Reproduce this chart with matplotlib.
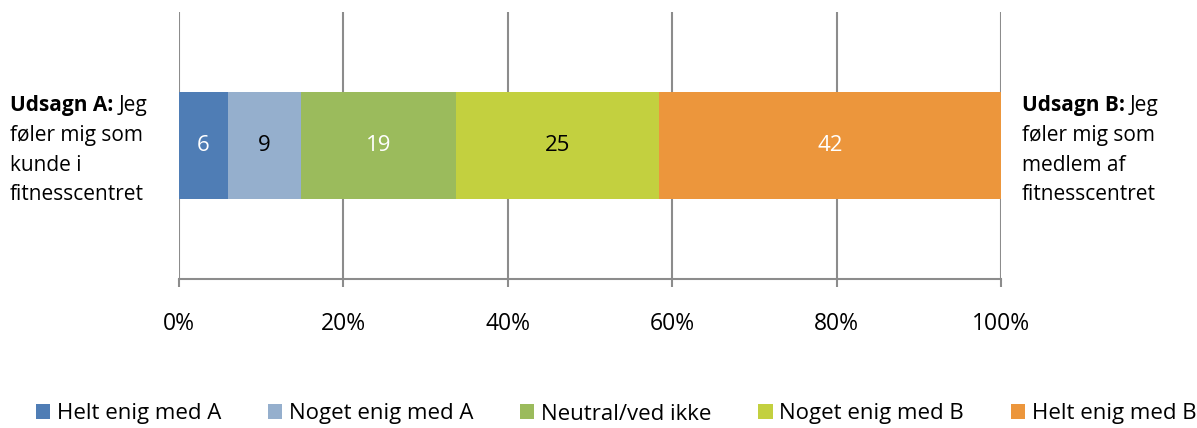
import numpy as np
import matplotlib.pyplot as plt

plt.rcParams['font.family'] = ['Open Sans', 'DejaVu Sans']

categories = ['Helt enig med A', 'Noget enig med A', 'Neutral/ved ikke',
              'Noget enig med B', 'Helt enig med B']
values = [6, 9, 19, 25, 42]
colors = ['#4F7DB5', '#95AFCD', '#9BBB5C', '#C3D03F', '#EC963C']
label_colors = ['white', 'black', 'white', 'black', 'white']
ticks = [0, 20, 40, 60, 80, 100]

fig = plt.figure(figsize=(11.97, 4.28), dpi=100)
ax = fig.add_axes([179 / 1197, 1 - 279 / 428, 822 / 1197, 267 / 428])

shares = np.array(values) / sum(values) * 100
left = 0
for cat, v, s, c, lc in zip(categories, values, shares, colors, label_colors):
    ax.barh(0, s, left=left, height=0.4, color=c, label=cat, zorder=3)
    ax.text(left + s / 2, 0, str(v), ha='center', va='center',
            color=lc, fontsize=16, zorder=4)
    left += s

ax.set_xlim(0, 100)
ax.set_ylim(-0.5, 0.5)
ax.invert_yaxis()
ax.set_xticks(ticks)
ax.set_xticklabels([f'{t}%' for t in ticks], fontsize=16.5)
ax.tick_params(axis='x', length=6, width=1.5, color='#8C8C8C', pad=18)
ax.set_yticks([])
for t in ticks:
    ax.axvline(t, color='#8C8C8C', lw=1.5, zorder=1)
for s in ['top', 'right', 'left']:
    ax.spines[s].set_visible(False)
ax.spines['bottom'].set_color('#8C8C8C')
ax.spines['bottom'].set_linewidth(1.5)

lines_a = ['Jeg', 'føler mig som', 'kunde i', 'fitnesscentret']
lines_b = ['Jeg', 'føler mig som', 'medlem af', 'fitnesscentret']

def side_text(x, head, lines):
    y0 = 106
    t = fig.text(x / 1197, 1 - y0 / 428, head, fontsize=15, fontweight='bold',
                 va='center', ha='left')
    fig.canvas.draw()
    bb = t.get_window_extent()
    fig.text((bb.x1 + 5) / 1197, 1 - y0 / 428, lines[0], fontsize=15,
             va='center', ha='left')
    for i, ln in enumerate(lines[1:]):
        fig.text(x / 1197, 1 - (y0 + 29.5 * (i + 1)) / 428, ln, fontsize=15,
                 va='center', ha='left')

side_text(10, 'Udsagn A:', lines_a)
side_text(1022, 'Udsagn B:', lines_b)

fig.legend(loc='center', bbox_to_anchor=(616 / 1197, 1 - 414 / 428), ncol=5,
           frameon=False, fontsize=16, handlelength=0.65, handleheight=0.65,
           handletextpad=0.3, columnspacing=2.1)

fig.savefig('out.png', dpi=100)
